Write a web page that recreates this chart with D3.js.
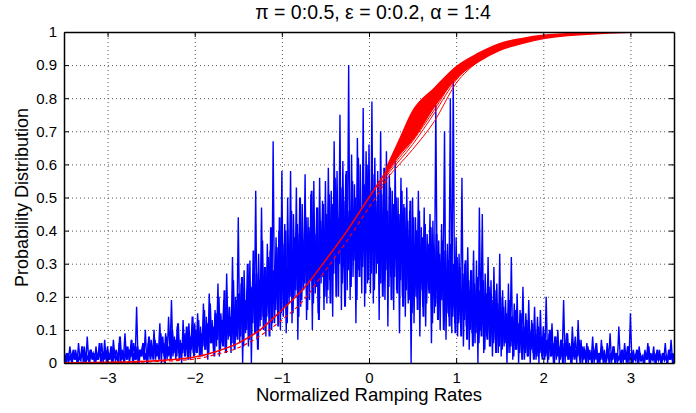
<!DOCTYPE html>
<html><head><meta charset="utf-8">
<script src="https://cdn.jsdelivr.net/npm/d3@7"></script>
<style>
body{margin:0;background:#fff}
svg{display:block}
text{font-family:"Liberation Sans",Arial,Helvetica,sans-serif;fill:#000}
</style>
</head><body><svg id="c" width="696" height="413"></svg>
<script>
const titleText = "π = 0:0.5, ε = 0:0.2, α = 1:4";
const xLabel = "Normalized Ramping Rates";
const yLabel = "Probability Distribution";
const xTicks = [-3, -2, -1, 0, 1, 2, 3];
const yTicks = [0, 0.1, 0.2, 0.3, 0.4, 0.5, 0.6, 0.7, 0.8, 0.9, 1];
const xDomain = [-3.5, 3.5];
const yDomain = [0, 1];

// blue noisy distributions, sampled every 1/60 from -3.5 (series B offset by -half a step)
const blueStart = -3.5, blueStep = 1 / 60;
const blueValues = [
 0.04,0.01,0.03,0.00,0.05,0.02,0.03,0.01,0.04,0.00,0.06,0.01,0.03,0.02,0.05,0.00,0.08,0.01,0.04,0.02,0.03,0.00,0.05,0.01,0.04,0.02,0.06,0.00,0.07,0.01,
 0.05,0.01,0.03,0.00,0.07,0.02,0.04,0.01,0.06,0.00,0.04,0.02,0.09,0.01,0.05,0.00,0.03,0.02,0.06,0.01,0.17,0.00,0.04,0.02,0.05,0.01,0.10,0.00,0.06,0.02,
 0.07,0.02,0.10,0.01,0.06,0.03,0.12,0.00,0.08,0.02,0.09,0.01,0.14,0.03,0.19,0.02,0.08,0.01,0.11,0.03,0.07,0.00,0.13,0.02,0.09,0.04,0.12,0.01,0.10,0.03,
 0.12,0.03,0.15,0.05,0.11,0.02,0.18,0.04,0.14,0.01,0.21,0.06,0.13,0.03,0.16,0.05,0.24,0.02,0.15,0.06,0.19,0.04,0.27,0.07,0.17,0.03,0.32,0.05,0.20,0.08,
 0.44,0.06,0.24,0.00,0.28,0.09,0.22,0.05,0.31,0.00,0.27,0.12,0.52,0.07,0.33,0.11,0.47,0.14,0.29,0.08,0.36,0.15,0.34,0.10,0.67,0.12,0.38,0.16,0.40,0.10,
 0.58,0.14,0.42,0.09,0.50,0.18,0.58,0.12,0.45,0.20,0.53,0.07,0.39,0.17,0.48,0.22,0.57,0.13,0.44,0.19,0.51,0.10,0.55,0.21,0.47,0.15,0.56,0.24,0.49,0.16,
 0.55,0.18,0.59,0.25,0.52,0.14,0.67,0.27,0.58,0.20,0.75,0.16,0.61,0.29,0.57,0.22,0.90,0.19,0.63,0.26,0.54,0.12,0.68,0.28,0.60,0.21,0.77,0.17,0.64,0.24,
 0.66,0.21,0.79,0.18,0.62,0.27,0.58,0.13,0.70,0.24,0.55,0.19,0.64,0.11,0.57,0.26,0.52,0.16,0.61,0.22,0.50,0.09,0.56,0.20,0.48,0.14,0.53,0.18,0.46,0.00,
 0.50,0.12,0.44,0.20,0.52,0.08,0.41,0.17,0.47,0.11,0.39,0.22,0.45,0.06,0.43,0.15,0.78,0.18,0.37,0.10,0.42,0.19,0.70,0.07,0.36,0.14,0.80,0.09,0.86,0.12,
 0.38,0.08,0.33,0.13,0.56,0.05,0.30,0.11,0.35,0.04,0.28,0.09,0.34,0.06,0.31,0.00,0.47,0.10,0.45,0.03,0.27,0.08,0.32,0.05,0.25,0.02,0.29,0.07,0.24,0.03,
 0.33,0.02,0.22,0.05,0.19,0.00,0.24,0.03,0.32,0.01,0.18,0.04,0.21,0.00,0.16,0.03,0.23,0.01,0.15,0.02,0.19,0.00,0.13,0.03,0.17,0.01,0.14,0.00,0.16,0.02,
 0.11,0.01,0.20,0.00,0.09,0.02,0.12,0.00,0.08,0.01,0.10,0.00,0.07,0.02,0.19,0.00,0.09,0.01,0.06,0.00,0.11,0.02,0.08,0.00,0.13,0.01,0.07,0.00,0.05,0.01,
 0.06,0.00,0.04,0.01,0.08,0.00,0.05,0.01,0.03,0.00,0.07,0.01,0.04,0.00,0.06,0.01,0.09,0.00,0.05,0.01,0.03,0.00,0.11,0.01,0.04,0.00,0.06,0.01,0.05,0.00,
 0.15,0.00,0.04,0.01,0.03,0.00,0.05,0.01,0.02,0.00,0.04,0.01,0.06,0.00,0.03,0.01,0.05,0.00,0.02,0.01,0.04,0.00,0.03,0.01,0.06,0.00,0.02,0.01,0.07,0.00,0.03
];
const blueValuesB = [
 0.01,0.02,0.00,0.03,0.01,0.02,0.00,0.04,0.01,0.03,0.00,0.02,0.01,0.05,0.00,0.03,0.01,0.02,0.00,0.04,0.01,0.03,0.00,0.02,0.01,0.06,0.00,0.03,0.01,0.04,
 0.00,0.03,0.01,0.05,0.00,0.04,0.01,0.02,0.00,0.08,0.01,0.03,0.00,0.05,0.01,0.04,0.02,0.07,0.00,0.03,0.01,0.05,0.00,0.04,0.02,0.06,0.01,0.03,0.00,0.08,
 0.01,0.05,0.01,0.07,0.02,0.04,0.01,0.09,0.03,0.06,0.00,0.08,0.02,0.05,0.01,0.10,0.03,0.07,0.02,0.12,0.01,0.06,0.03,0.09,0.02,0.11,0.01,0.08,0.04,0.14,
 0.02,0.10,0.03,0.13,0.02,0.09,0.05,0.16,0.04,0.12,0.03,0.18,0.06,0.11,0.02,0.15,0.07,0.20,0.04,0.13,0.05,0.22,0.03,0.17,0.08,0.14,0.06,0.25,0.04,0.19,
 0.07,0.21,0.08,0.26,0.05,0.19,0.10,0.30,0.07,0.23,0.12,0.34,0.09,0.27,0.04,0.25,0.13,0.37,0.10,0.29,0.14,0.32,0.08,0.41,0.12,0.28,0.16,0.35,0.11,0.44,
 0.15,0.36,0.17,0.40,0.12,0.33,0.20,0.46,0.15,0.38,0.22,0.42,0.14,0.50,0.19,0.37,0.24,0.44,0.16,0.41,0.25,0.52,0.18,0.39,0.23,0.47,0.13,0.43,0.26,0.48,
 0.20,0.45,0.22,0.51,0.18,0.48,0.27,0.56,0.20,0.44,0.30,0.53,0.24,0.49,0.17,0.58,0.28,0.46,0.23,0.55,0.31,0.50,0.19,0.62,0.26,0.47,0.29,0.54,0.21,0.60,
 0.25,0.52,0.27,0.57,0.22,0.49,0.30,0.55,0.24,0.51,0.20,0.59,0.28,0.46,0.23,0.53,0.19,0.48,0.26,0.50,0.21,0.45,0.25,0.52,0.17,0.47,0.22,0.43,0.19,0.49,
 0.15,0.44,0.20,0.40,0.16,0.46,0.22,0.38,0.14,0.42,0.18,0.36,0.21,0.41,0.12,0.35,0.17,0.39,0.13,0.33,0.19,0.37,0.10,0.34,0.15,0.31,0.11,0.36,0.14,0.30,
 0.09,0.32,0.12,0.29,0.08,0.27,0.13,0.31,0.07,0.25,0.10,0.28,0.05,0.24,0.09,0.26,0.06,0.22,0.08,0.25,0.04,0.21,0.07,0.23,0.05,0.19,0.06,0.22,0.03,0.18,
 0.05,0.20,0.04,0.17,0.06,0.15,0.03,0.19,0.05,0.14,0.02,0.16,0.04,0.12,0.03,0.15,0.01,0.11,0.03,0.13,0.02,0.10,0.04,0.12,0.01,0.09,0.02,0.11,0.03,0.08,
 0.01,0.09,0.02,0.07,0.01,0.10,0.02,0.06,0.00,0.08,0.02,0.05,0.01,0.07,0.00,0.06,0.02,0.09,0.01,0.05,0.00,0.06,0.01,0.04,0.02,0.07,0.00,0.05,0.01,0.04,
 0.00,0.05,0.01,0.03,0.00,0.04,0.01,0.06,0.00,0.03,0.01,0.05,0.00,0.02,0.01,0.04,0.00,0.03,0.01,0.05,0.00,0.03,0.01,0.02,0.00,0.04,0.01,0.03,0.00,0.05,
 0.01,0.03,0.00,0.02,0.01,0.04,0.00,0.03,0.01,0.02,0.00,0.03,0.01,0.05,0.00,0.02,0.01,0.03,0.00,0.04,0.01,0.02,0.00,0.03,0.01,0.02,0.00,0.04,0.01,0.03,0.00
];

// red cumulative curves (merged part)
const redX      = [-3.5, -3, -2.5, -2, -1.75, -1.5, -1.25, -1, -0.75, -0.5, -0.25, 0, 0.2];
const redMain   = [0.0, 0.002, 0.006, 0.018, 0.035, 0.06, 0.10, 0.16, 0.225, 0.31, 0.40, 0.50, 0.58];
const redDashed = [0.0, 0.001, 0.004, 0.012, 0.026, 0.046, 0.082, 0.13, 0.19, 0.28, 0.37, 0.47, 0.55];
// red fan (spread part)
const fanX     = [0.2, 0.35, 0.5, 0.75, 1, 1.25, 1.5, 1.75, 2, 2.5, 3, 3.5];
const fanUpper = [0.59, 0.675, 0.76, 0.83, 0.895, 0.935, 0.965, 0.98, 0.99, 0.997, 1.0, 1.0];
const fanLower = [0.575, 0.63, 0.675, 0.775, 0.86, 0.91, 0.945, 0.965, 0.98, 0.993, 0.999, 1.0];
// stray red curves
const strayX = [0.1, 0.2, 0.5, 0.75, 1.0, 1.25];
const strayA = [0.53, 0.565, 0.66, 0.755, 0.855, 0.915];
const strayB = [0.52, 0.555, 0.645, 0.73, 0.845, 0.91];
const strayC = [0.53, 0.57, 0.67, 0.765, 0.865, 0.918];

const W = 696, H = 413;
const m = {left: 64, right: 22, top: 32, bottom: 50};
const iw = W - m.left - m.right, ih = H - m.top - m.bottom;
const svg = d3.select("#c");
const x = d3.scaleLinear().domain(xDomain).range([0, iw]);
const y = d3.scaleLinear().domain(yDomain).range([ih, 0]);
const g = svg.append("g").attr("transform", `translate(${m.left},${m.top})`);

svg.append("defs").append("clipPath").attr("id", "clip")
  .append("rect").attr("width", iw).attr("height", ih);

// grid
const gx = g.append("g").attr("transform", `translate(0,${ih})`)
  .call(d3.axisBottom(x).tickValues(xTicks).tickSize(-ih).tickFormat(""));
const gy = g.append("g")
  .call(d3.axisLeft(y).tickValues(yTicks).tickSize(-iw).tickFormat(""));
[gx, gy].forEach(a => {
  a.select(".domain").remove();
  a.selectAll("line").attr("stroke", "#555").attr("stroke-dasharray", "1,3").attr("stroke-width", 1);
});

const plot = g.append("g").attr("clip-path", "url(#clip)");

// blue
const blueLineA = d3.line().x((d, i) => x(blueStart + i * blueStep)).y(d => y(d));
const blueLineB = d3.line().x((d, i) => x(blueStart + (i - 0.5) * blueStep)).y(d => y(d));
plot.append("path").datum(blueValuesB).attr("d", blueLineB)
  .attr("fill", "none").attr("stroke", "#0000ff").attr("stroke-width", 2);
plot.append("path").datum(blueValues).attr("d", blueLineA)
  .attr("fill", "none").attr("stroke", "#0000ff").attr("stroke-width", 1.4);

// red
const lineXY = (xs) => d3.line().curve(d3.curveMonotoneX).x((d, i) => x(xs[i])).y(d => y(d));
plot.append("path").datum(redDashed).attr("d", lineXY(redX))
  .attr("fill", "none").attr("stroke", "#ff0000").attr("stroke-width", 1.2).attr("stroke-dasharray", "4,3");
plot.append("path").datum(redMain).attr("d", lineXY(redX))
  .attr("fill", "none").attr("stroke", "#ff0000").attr("stroke-width", 1.6);
const fanArea = d3.area().curve(d3.curveMonotoneX)
  .x((d, i) => x(fanX[i])).y0((d, i) => y(fanLower[i])).y1(d => y(d));
plot.append("path").datum(fanUpper).attr("d", fanArea).attr("fill", "#ff0000")
  .attr("stroke", "#ff0000").attr("stroke-width", 1.5);
[strayA, strayB, strayC].forEach(s => {
  plot.append("path").datum(s).attr("d", lineXY(strayX))
    .attr("fill", "none").attr("stroke", "#ff0000").attr("stroke-width", 1);
});

// axes with inward ticks
const fmt = d3.format("~g");
const ax = g.append("g").attr("transform", `translate(0,${ih})`)
  .call(d3.axisBottom(x).tickValues(xTicks).tickSizeInner(-5).tickSizeOuter(0).tickPadding(9).tickFormat(fmt));
const ay = g.append("g")
  .call(d3.axisLeft(y).tickValues(yTicks).tickSizeInner(-5).tickSizeOuter(0).tickPadding(7).tickFormat(fmt));
const axt = g.append("g")
  .call(d3.axisTop(x).tickValues(xTicks).tickSizeInner(-5).tickSizeOuter(0).tickFormat(""));
const ayr = g.append("g").attr("transform", `translate(${iw},0)`)
  .call(d3.axisRight(y).tickValues(yTicks).tickSizeInner(-5).tickSizeOuter(0).tickFormat(""));
[ax, ay, axt, ayr].forEach(a => {
  a.select(".domain").attr("stroke", "#000").attr("stroke-width", 1.5);
  a.selectAll(".tick line").attr("stroke", "#000").attr("stroke-width", 1);
  a.selectAll("text").style("font-size", "15px").attr("fill", "#000");
});

// title and labels
svg.append("text").attr("x", m.left + iw / 2 + 4).attr("y", 19).attr("text-anchor", "middle")
  .style("font-size", "19.5px").text(titleText);
svg.append("text").attr("x", m.left + iw / 2).attr("y", 401).attr("text-anchor", "middle")
  .style("font-size", "18.5px").text(xLabel);
svg.append("text").attr("transform", `translate(28,${m.top + ih / 2}) rotate(-90)`).attr("text-anchor", "middle")
  .style("font-size", "18px").text(yLabel);
</script>
</body></html>
